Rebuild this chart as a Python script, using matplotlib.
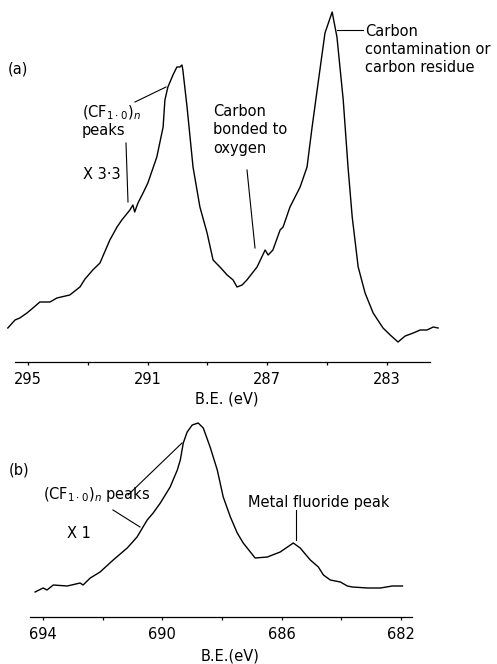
import matplotlib
matplotlib.use("Agg")
import matplotlib.pyplot as plt
import numpy as np

# C 1s spectrum (a), arbitrary intensity units
be_c1s = [295.67, 295.43, 295.27, 295.03, 294.83, 294.60, 294.26, 294.03, 293.60,
          293.26, 293.09, 292.83, 292.59, 292.26, 292.02, 291.86, 291.59, 291.49,
          291.43, 291.32, 291.15, 290.99, 290.69, 290.48, 290.42, 290.32, 290.15,
          290.02, 289.92, 289.85, 289.82, 289.68, 289.48, 289.25, 289.01, 288.81,
          288.58, 288.34, 288.14, 288.01, 287.84, 287.68, 287.34, 287.07, 286.97,
          286.81, 286.57, 286.47, 286.24, 285.90, 285.67, 285.50, 285.30, 285.07,
          284.83, 284.67, 284.46, 284.30, 284.16, 283.96, 283.73, 283.46, 283.13,
          282.89, 282.63, 282.39, 282.12, 281.89, 281.66, 281.45, 281.29]
int_c1s = [34, 42, 44, 49, 54, 60, 60, 64, 67,
           75, 83, 92, 99, 122, 135, 142, 152, 157,
           150, 159, 169, 179, 205, 235, 262, 275, 287,
           295, 295, 297, 292, 255, 195, 155, 129, 102,
           95, 87, 82, 75, 77, 82, 95, 112, 107,
           112, 132, 135, 155, 175, 195, 235, 279, 329,
           350, 325, 262, 195, 145, 95, 69, 49, 34,
           27, 20, 26, 29, 32, 32, 35, 34]

# F 1s spectrum (b)
be_f1s = [694.27, 694.00, 693.87, 693.66, 693.19, 692.76, 692.66, 692.42, 692.09,
          691.65, 691.18, 690.85, 690.51, 690.31, 690.07, 689.74, 689.50, 689.40,
          689.30, 689.17, 689.00, 688.80, 688.63, 688.40, 688.16, 687.96, 687.72,
          687.49, 687.29, 687.05, 686.89, 686.48, 686.05, 685.61, 685.38, 685.04,
          684.77, 684.60, 684.37, 684.03, 683.80, 683.63, 683.13, 682.69, 682.29,
          681.95]
int_f1s = [25, 29, 27, 32, 31, 34, 32, 39, 45,
           57, 69, 80, 97, 104, 114, 130, 147, 157,
           174, 185, 192, 194, 189, 170, 147, 120, 100,
           84, 74, 65, 59, 60, 65, 74, 69, 57,
           50, 42, 37, 35, 31, 30, 29, 29, 31,
           31]

ticks_a_major = [295, 291, 287, 283]
ticks_a_minor = [293, 289, 285]
ticks_b_major = [694, 690, 686, 682]
ticks_b_minor = [692, 688, 684]

W, H = 497, 664
plt.rcParams['font.family'] = 'DejaVu Sans'
plt.rcParams['mathtext.fontset'] = 'dejavusans'
FS = 10.5

fig = plt.figure(figsize=(W / 100, H / 100), dpi=100)

def px(x, y):
    return x / W, 1 - y / H

def leader(x0, y0, x1, y1):
    fig.add_artist(plt.Line2D([x0 / W, x1 / W], [1 - y0 / H, 1 - y1 / H],
                              color='black', lw=0.8))

def label(x, y, s, ha='left'):
    fig.text(*px(x, y), s, fontsize=FS, ha=ha, va='center')

def style_axis(ax, major, minor, xlim, ylim):
    ax.set_xlim(*xlim)
    ax.set_ylim(*ylim)
    for side in ['left', 'right', 'top']:
        ax.spines[side].set_visible(False)
    ax.spines['bottom'].set_linewidth(0.9)
    ax.set_yticks([])
    ax.set_xticks(major)
    ax.set_xticks(minor, minor=True)
    ax.tick_params(axis='x', which='both', direction='out', length=2.5,
                   width=0.9, labelsize=FS, pad=5)
    ax.patch.set_alpha(0)

# panel (a)
ax1 = fig.add_axes([15 / W, 1 - 362 / H, 415 / W, 362 / H])
ax1.plot(be_c1s, int_c1s, color='black', lw=1.0, clip_on=False)
style_axis(ax1, ticks_a_major, ticks_a_minor, (295.43, 281.56), (0, 362))
ax1.set_xlabel('B.E. (eV)', fontsize=FS)
ax1.xaxis.set_label_coords(0.511, -0.082)

label(8, 69, '(a)')
label(82, 113, r'(CF$_{1\cdot0}$)$_n$')
label(82, 131, 'peaks')
label(83, 175, 'X 3·3')
for i, s in enumerate(['Carbon', 'bonded to', 'oxygen']):
    label(213, 112 + 18 * i, s)
for i, s in enumerate(['Carbon', 'contamination or', 'carbon residue']):
    label(365, 31 + 18 * i, s)
leader(135, 102, 166, 87)
leader(126, 143, 128, 202)
leader(247, 170, 255, 248)
leader(337, 30, 363, 30)

# panel (b)
ax2 = fig.add_axes([30 / W, 1 - 617 / H, 382 / W, 217 / H])
ax2.plot(be_f1s, int_f1s, color='black', lw=1.0, clip_on=False)
style_axis(ax2, ticks_b_major, ticks_b_minor, (694.44, 681.63), (0, 217))
ax2.set_xlabel('B.E.(eV)', fontsize=FS)
ax2.xaxis.set_label_coords(0.524, -0.145)

label(9, 470, '(b)')
label(43, 495, r'(CF$_{1\cdot0}$)$_n$ peaks')
label(67, 533, 'X 1')
label(248, 503, 'Metal fluoride peak')
leader(128, 495, 182, 443)
leader(113, 510, 140, 527)
leader(296, 510, 296, 540)

fig.savefig('out.png', dpi=100)
